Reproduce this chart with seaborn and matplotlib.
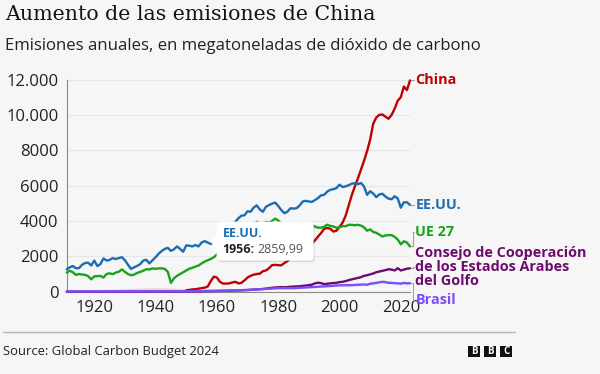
import pandas as pd
import matplotlib
matplotlib.use("Agg")
import matplotlib.pyplot as plt
import seaborn as sns
from matplotlib.patches import FancyBboxPatch, Polygon, Rectangle
from matplotlib.transforms import IdentityTransform, blended_transform_factory

# ---- data (Mt CO2) ----
years = list(range(1911, 2024))

us = [1270, 1380, 1450, 1330, 1330, 1520, 1620, 1640, 1480, 1760,   # 1911-1920
      1450, 1560, 1880, 1760, 1800, 1900, 1850, 1900, 1950, 1780,   # 1921-1930
      1520, 1290, 1380, 1460, 1560, 1760, 1800, 1600, 1780, 1950,   # 1931-1940
      2150, 2300, 2420, 2480, 2310, 2400, 2560, 2420, 2260, 2620,   # 1941-1950
      2600, 2560, 2640, 2560, 2780, 2860, 2780, 2700, 2820, 2900,   # 1951-1960
      2900, 3050, 3250, 3450, 3700, 3950, 4150, 4300, 4320, 4550,   # 1961-1970
      4520, 4760, 4880, 4650, 4520, 4800, 4900, 4980, 5040, 4850,   # 1971-1980
      4620, 4440, 4520, 4720, 4700, 4720, 4880, 5100, 5140, 5100,   # 1981-1990
      5080, 5180, 5300, 5450, 5480, 5660, 5760, 5800, 5860, 6050,   # 1991-2000
      5920, 5960, 6020, 6110, 6130, 6080, 6150, 5950, 5480, 5680,   # 2001-2010
      5550, 5350, 5500, 5540, 5380, 5260, 5230, 5400, 5270, 4750,   # 2011-2020
      5050, 5060, 4910]                                             # 2021-2023

eu27 = [1080, 1190, 1100, 950, 1000, 970, 950, 880, 700, 870,
        880, 890, 800, 1000, 1040, 990, 1080, 1130, 1260, 1120,
        1000, 930, 970, 1060, 1120, 1190, 1270, 1260, 1320, 1290,
        1320, 1320, 1290, 1120, 500, 760, 900, 1000, 1100, 1200,
        1300, 1350, 1420, 1480, 1600, 1700, 1780, 1850, 1950, 2100,
        2200, 2350, 2550, 2700, 2800, 2900, 3000, 3200, 3450, 3600,
        3700, 3800, 3950, 3850, 3750, 3950, 3900, 4000, 4130, 4030,
        3850, 3750, 3700, 3720, 3760, 3750, 3800, 3780, 3800, 3800,
        3770, 3680, 3620, 3620, 3680, 3790, 3720, 3690, 3620, 3640,
        3710, 3700, 3780, 3780, 3760, 3780, 3740, 3640, 3450, 3520,
        3380, 3330, 3230, 3120, 3180, 3200, 3200, 3100, 2950, 2680,
        2850, 2780, 2560]

china_years = list(range(1950, 2024))
china = [80, 100, 130, 140, 170, 200, 230, 290, 600, 850, 800,          # 1950-1960
         560, 460, 460, 470, 520, 560, 470, 500, 640, 800,              # 1961-1970
         900, 960, 1000, 1020, 1160, 1200, 1330, 1500, 1520, 1500,      # 1971-1980
         1490, 1620, 1730, 1880, 2040, 2160, 2310, 2480, 2550, 2580,    # 1981-1990
         2730, 2900, 3120, 3320, 3560, 3600, 3560, 3400, 3450, 3660,    # 1991-2000
         3900, 4300, 4880, 5460, 5950, 6400, 6900, 7400, 7950, 8600,    # 2001-2010
         9500, 9850, 10000, 10020, 9900, 9780, 10000, 10350, 10800, 11000,
         11600, 11400, 11950]
# early china values are drawn very faint in the original
china_early_years = [1911, 1920, 1928, 1935, 1940, 1945, 1950]
china_early = [20, 30, 60, 110, 140, 120, 80]

gcc_years = [1911, 1940, 1950, 1955, 1960, 1965, 1970, 1973, 1975, 1977, 1979] + list(range(1980, 2024))
gcc = [0, 2, 10, 25, 40, 60, 95, 130, 150, 200, 240,
       250, 260, 250, 260, 280, 290, 300, 310, 330, 350,
       370, 400, 470, 510, 480, 430, 450, 470, 490, 500,
       540, 560, 600, 650, 700, 740, 780, 820, 900, 930,
       980, 1030, 1100, 1140, 1180, 1220, 1270, 1250, 1200, 1330,
       1200, 1250, 1300, 1320]

brazil_years = [1911, 1930, 1945, 1950, 1955, 1960, 1965, 1970, 1975, 1980,
                1985, 1990, 1995, 2000, 2004, 2008, 2009, 2010, 2011, 2012,
                2013, 2014, 2015, 2016, 2017, 2018, 2019, 2020, 2021, 2022, 2023]
brazil = [10, 15, 18, 25, 40, 50, 65, 95, 150, 200,
          200, 250, 300, 360, 370, 410, 390, 450, 470, 500,
          530, 560, 540, 500, 500, 480, 475, 450, 500, 470, 480]

names = ["China", "EE.UU.", "UE 27",
         "Consejo de Cooperación\nde los Estados Árabes\ndel Golfo", "Brasil"]
colors = ["#c10000", "#1b6db3", "#1ba21b", "#6e0c6e", "#7a4dff"]

y_ticks = [0, 2000, 4000, 6000, 8000, 10000, 12000]
y_labels = ["0", "2000", "4000", "6000", "8000", "10.000", "12.000"]
x_ticks = list(range(1920, 2021, 10))
x_labels = ["1920", "", "1940", "", "1960", "", "1980", "", "2000", "", "2020"]

tip_year, tip_value = 1956, 2859.99

# ---- build long table ----
series = [(names[0], china_years, china), (names[1], years, us), (names[2], years, eu27),
          (names[3], gcc_years, gcc), (names[4], brazil_years, brazil)]
df = pd.concat([pd.DataFrame({"year": y, "value": v, "serie": n}) for n, y, v in series])
pal = dict(zip(names, colors))

sns.set_style("white")
plt.rcParams["font.family"] = ["Open Sans", "DejaVu Sans"]
bg = "#f6f6f6"

fig = plt.figure(figsize=(6, 3.74), dpi=100)
fig.patch.set_facecolor(bg)
ax = fig.add_axes([66.7 / 600, 82.3 / 374, (410 - 66.7) / 600, (291.7 - 79.5) / 374])
ax.set_facecolor(bg)

sns.lineplot(x=china_early_years, y=china_early, color=colors[0], alpha=0.15,
             linewidth=1.6, ax=ax)
sns.lineplot(data=df, x="year", y="value", hue="serie", hue_order=names,
             palette=pal, estimator=None, legend=False, linewidth=1.7, ax=ax)
for ln in ax.lines:
    ln.set_clip_on(False)
    ln.set_zorder(3)

ax.set_xlim(1911, 2023)
ax.set_ylim(0, 12000)
ax.set_yticks(y_ticks)
ax.set_yticklabels(y_labels)
ax.set_xticks(x_ticks)
ax.set_xticklabels(x_labels)
ax.set_xlabel("")
ax.set_ylabel("")
for s in ["top", "right"]:
    ax.spines[s].set_visible(False)
for s in ["left", "bottom"]:
    ax.spines[s].set_color("#8a8a8a")
    ax.spines[s].set_linewidth(0.8)
ax.tick_params(axis="both", length=4, width=0.8, color="#8a8a8a",
               labelsize=12, labelcolor="#222222", pad=2)
ax.yaxis.grid(True, color="#e6e6e6", linewidth=0.8)
ax.set_axisbelow(True)

# ---- right-hand labels with leader lines ----
label_y = [11950, 4900, 3400, 1400, -470]
tr = blended_transform_factory(ax.transAxes, ax.transData)
for (n, yrs, vals), ly, c in zip(series, label_y, colors):
    last = vals[-1]
    ax.plot([1.002, 1.008, 1.008, 1.013], [last, last, ly, ly], color="#a0a0a0",
            linewidth=0.8, transform=tr, clip_on=False)
    ax.text(1.016, ly, n, transform=tr, color=c, fontsize=10.4, fontweight="bold",
            va="center", ha="left", linespacing=0.98)

# ---- tooltip ----
fig.canvas.draw()
px, py = ax.transData.transform((tip_year, tip_value))
bx, bw, bh = px + 12, 97, 39
by = py - bh / 2
shadow = FancyBboxPatch((bx + 1, by - 1.5), bw, bh, boxstyle="round,pad=0,rounding_size=3",
                        fc="#000000", ec="none", alpha=0.12, transform=IdentityTransform(),
                        zorder=9)
box = FancyBboxPatch((bx, by), bw, bh, boxstyle="round,pad=0,rounding_size=3",
                     fc="white", ec="none", transform=IdentityTransform(), zorder=10)
tri = Polygon([(bx + 1, py + 8), (bx + 1, py - 8), (bx - 7, py)], closed=True,
              fc="white", ec="none", transform=IdentityTransform(), zorder=10)
for p in (shadow, box, tri):
    fig.add_artist(p)
fig.text(bx + 6, py + 8, "EE.UU.", transform=IdentityTransform(), color=colors[1],
         fontsize=9, fontweight="bold", va="center", ha="left", zorder=11)
t_year = fig.text(bx + 6, py - 8, f"{tip_year}:", transform=IdentityTransform(),
                  color="#222222", fontsize=9, fontweight="bold", va="center",
                  ha="left", zorder=11)
fig.canvas.draw()
ext = t_year.get_window_extent()
fig.text(ext.x1 + 3, py - 8, f"{tip_value:.2f}".replace(".", ","),
         transform=IdentityTransform(), color="#555555", fontsize=9,
         va="center", ha="left", zorder=11)

# ---- titles and footer ----
fig.text(5 / 600, 1 - 14 / 374, "Aumento de las emisiones de China",
         family="DejaVu Serif", fontsize=14.8, color="#141414", va="center", ha="left")
fig.text(5 / 600, 1 - 46 / 374, "Emisiones anuales, en megatoneladas de dióxido de carbono",
         fontsize=12.1, color="#222222", va="center", ha="left")
fig.add_artist(plt.Line2D([3 / 600, 515 / 600], [1 - 331.5 / 374] * 2, color="#b5b5b5",
                          linewidth=1))
fig.text(3 / 600, 1 - 351 / 374, "Source: Global Carbon Budget 2024", fontsize=9.4,
         color="#222222", va="center", ha="left")
for i, letter in enumerate("BBC"):
    x0 = 468 + i * 16
    fig.add_artist(Rectangle((x0, 374 - 357), 12, 11, fc="#111111", ec="none",
                             transform=IdentityTransform()))
    fig.text(x0 + 6, 374 - 351.5, letter, transform=IdentityTransform(), color="white",
             fontsize=7, fontweight="bold", va="center", ha="center")

fig.savefig("out.png", dpi=100, facecolor=bg)
